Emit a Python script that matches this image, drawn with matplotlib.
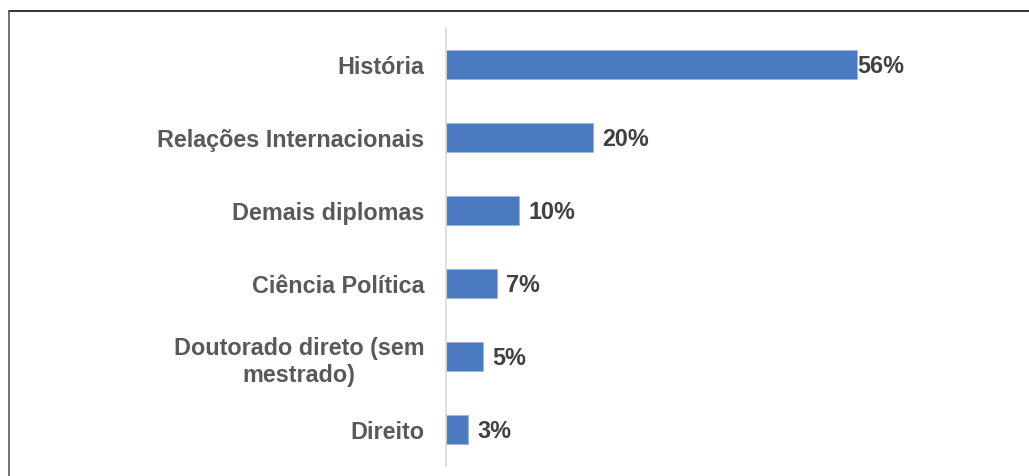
import matplotlib
matplotlib.use("Agg")
import matplotlib.pyplot as plt
from matplotlib.lines import Line2D

categories = ["História", "Relações Internacionais", "Demais diplomas",
              "Ciência Política", "Doutorado direto (sem\nmestrado)", "Direito"]
values = [56, 20, 10, 7, 5, 3]
value_labels = ["56%", "20%", "10%", "7%", "5%", "3%"]

plt.rcParams['font.family'] = ['Liberation Sans', 'DejaVu Sans']

W, H = 1029, 477
fig = plt.figure(figsize=(W / 100, H / 100), dpi=100)
ax = fig.add_axes([446 / W, 1 - 467 / H, (1000 - 446) / W, (467 - 29) / H])

bar_color = "#4a7bc0"
ypos = list(range(len(categories)))
ax.barh(ypos, values, height=0.4, color=bar_color, edgecolor="#9db5de", linewidth=0.6)
ax.set_ylim(len(categories) - 0.5, -0.5)
ax.set_xlim(0, 75.4)

ax.set_yticks(ypos)
ax.set_yticklabels(categories, fontsize=16.8, fontweight="bold", color="#595959",
                   multialignment="center", linespacing=1.22)
ax.tick_params(axis="y", length=0, pad=15.5)
ax.set_xticks([])

for s in ["top", "right", "bottom"]:
    ax.spines[s].set_visible(False)
ax.spines["left"].set_color("#d9d9d9")
ax.spines["left"].set_linewidth(1.2)

offsets = [0, 9, 9, 9, 9, 9]
for y, v, lab, off in zip(ypos, values, value_labels, offsets):
    ax.annotate(lab, xy=(v, y), xytext=(off, -1), textcoords="offset pixels",
                ha="left", va="center", fontsize=16.8, fontweight="bold", color="#404040")

# frame: top and left edges
fig.add_artist(Line2D([9 / W, 1.0], [1 - 12 / H, 1 - 12 / H], transform=fig.transFigure,
                      color="#222222", linewidth=1.3))
fig.add_artist(Line2D([9 / W, 9 / W], [0.0, 1 - 12 / H], transform=fig.transFigure,
                      color="#666666", linewidth=1.3))

fig.savefig("out.png", dpi=100)
